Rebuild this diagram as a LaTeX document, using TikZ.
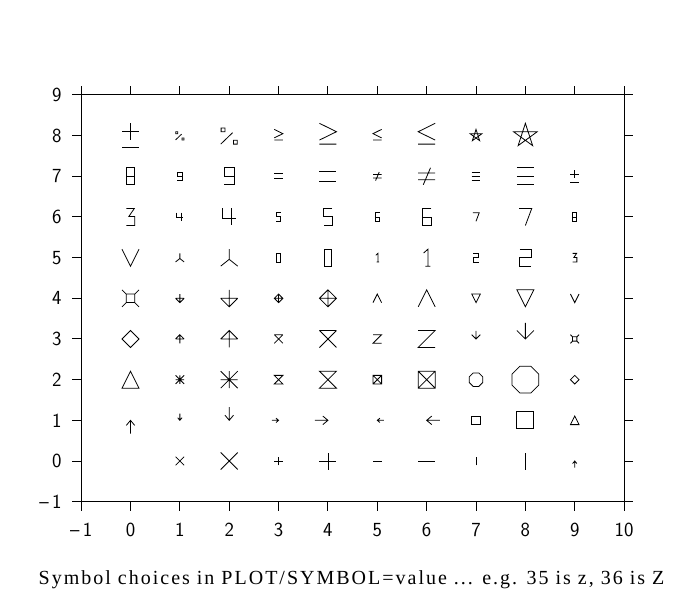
\documentclass[tikz,border=0pt]{standalone}
\usepackage{fontspec}
\newfontfamily\titlefont[LetterSpace=10]{Liberation Serif}
\newcommand\ssz{4.3pt}
\newcommand\bsz{8.5pt}
\tikzset{
	frame/.style={line width=1pt},
	tlab/.style={inner sep=0pt,font=\sffamily\fontsize{20}{23}\selectfont},
	pics/xmark/.style={code={\draw[x=#1,y=#1] (-1,-1)--(1,1) (-1,1)--(1,-1);}},
	pics/pmark/.style={code={\draw[x=#1,y=#1] (-1,0)--(1,0) (0,-1)--(0,1);}},
	pics/hbar/.style={code={\draw[x=#1,y=#1] (-1,0)--(1,0);}},
	pics/vbar/.style={code={\draw[x=#1,y=#1] (0,-1)--(0,1);}},
	pics/arr/.style={code={\draw[x=#1,y=#1] (0,0)--(-1.55,0) (-0.6,0.5)--(0,0)--(-0.6,-0.5);}},
	pics/sqr/.style={code={\draw[x=#1,y=#1] (-1,-1) rectangle (1,1);}},
	pics/tri/.style={code={\draw[x=#1,y=#1] (-1,-1)--(1,-1)--(0,1)--cycle;}},
	pics/ast/.style={code={\draw[x=#1,y=#1] (-1,-1)--(1,1) (-1,1)--(1,-1) (-1,0)--(1,0) (0,-1)--(0,1);}},
	pics/hglass/.style={code={\draw[x=#1,y=#1] (-1,1)--(1,1)--(-1,-1)--(1,-1)--cycle;}},
	pics/boxx/.style={code={\draw[x=#1,y=#1] (-1,-1) rectangle (1,1) (-1,-1)--(1,1) (-1,1)--(1,-1);}},
	pics/octa/.style={code={\draw[x=#1,y=#1] (22.5:1.7) \foreach \a in {67.5,112.5,...,337.5} {--(\a:1.7)} --cycle;}},
	pics/dia/.style={code={\draw[x=#1,y=#1] (0,1)--(1,0)--(0,-1)--(-1,0)--cycle;}},
	pics/tarr/.style={code={\draw[x=#1,y=#1] (-1,0)--(1,0) (0,-1)--(0,1) (-1,0)--(0,1)--(1,0);}},
	pics/topx/.style={code={\draw[x=#1,y=#1] (-1,1)--(1,1) (-1,1)--(1,-1) (1,1)--(-1,-1);}},
	pics/zee/.style={code={\draw[x=#1,y=#1] (-1,1)--(1,1)--(-1,-1)--(1,-1);}},
	pics/varr/.style={code={\draw[x=#1,y=#1] (0,0)--(0,1.9) (-1,1)--(0,0)--(1,1);}},
	pics/csq/.style={code={\draw[x=#1,y=#1] (-0.5,-0.5) rectangle (0.5,0.5) (-0.5,-0.5)--(-1,-1) (0.5,-0.5)--(1,-1) (0.5,0.5)--(1,1) (-0.5,0.5)--(-1,1);}},
	pics/barr/.style={code={\draw[x=#1,y=#1] (-1,0)--(1,0) (0,-1)--(0,1) (-1,0)--(0,-1)--(1,0);}},
	pics/diap/.style={code={\draw[x=#1,y=#1] (0,1)--(1,0)--(0,-1)--(-1,0)--cycle (-1,0)--(1,0) (0,-1)--(0,1);}},
	pics/lam/.style={code={\draw[x=#1,y=#1] (-1,-1)--(0,1)--(1,-1);}},
	pics/itri/.style={code={\draw[x=#1,y=#1] (-1,1)--(1,1)--(0,-1)--cycle;}},
	pics/vee/.style={code={\draw[x=#1,y=#1] (-1,1)--(0,-1)--(1,1);}},
	pics/ypsi/.style={code={\draw[x=#1,y=#1] (0,1)--(0,-0.2) (-1,-1)--(0,-0.2)--(1,-1);}},
	pics/dzero/.style={code={\draw[x=#1,y=#1] (-0.45,-1) rectangle (0.45,1);}},
	pics/done/.style={code={\draw[x=#1,y=#1] (-0.35,0.55)--(0.15,1)--(0.15,-1) (-0.15,-1)--(0.45,-1);}},
	pics/dtwo/.style={code={\draw[x=#1,y=#1] (-0.65,1)--(0.65,1)--(0.65,0)--(-0.65,0)--(-0.65,-1)--(0.65,-1);}},
	pics/dthree/.style={code={\draw[x=#1,y=#1] (-0.5,1)--(0.45,1)--(-0.2,0.05)--(0.5,0.05)--(0.5,-1)--(-0.5,-1);}},
	pics/dfour/.style={code={\draw[x=#1,y=#1] (-0.8,1)--(-0.8,-0.15)--(0.8,-0.15) (0.3,1)--(0.3,-1);}},
	pics/dfive/.style={code={\draw[x=#1,y=#1] (0.5,1)--(-0.5,1)--(-0.5,0.05)--(0.5,0.05)--(0.5,-1)--(-0.5,-1);}},
	pics/dsix/.style={code={\draw[x=#1,y=#1] (0.55,1)--(-0.55,1)--(-0.55,-1)--(0.55,-1)--(0.55,0)--(-0.55,0);}},
	pics/dseven/.style={code={\draw[x=#1,y=#1] (-0.75,1)--(0.75,1)--(0,-1);}},
	pics/deight/.style={code={\draw[x=#1,y=#1] (-0.45,-1) rectangle (0.45,1) (-0.45,0)--(0.45,0);}},
	pics/dnine/.style={code={\draw[x=#1,y=#1] (0.6,0)--(-0.6,0)--(-0.6,1)--(0.6,1)--(0.6,-1)--(-0.6,-1);}},
	pics/eqs/.style={code={\draw[x=#1,y=#1] (-1,0.6)--(1,0.6) (-1,-0.6)--(1,-0.6);}},
	pics/neq/.style={code={\draw[x=#1,y=#1] (-1,0.4)--(1,0.4) (-1,-0.4)--(1,-0.4) (-0.4,-1)--(0.45,1);}},
	pics/triq/.style={code={\draw[x=#1,y=#1] (-1,1)--(1,1) (-1,0)--(1,0) (-1,-1)--(1,-1);}},
	pics/pmk/.style={code={\draw[x=#1,y=#1] (-1,0.45)--(1,0.45) (0,1.45)--(0,-0.5) (-1,-1.4)--(1,-1.4);}},
	pics/pct/.style={code={\draw[x=#1,y=#1] (-0.95,0.45) rectangle (-0.5,0.9) (-1,-1)--(0.4,0.35) (0.5,-1) rectangle (0.95,-0.55);}},
	pics/geq/.style={code={\draw[x=#1,y=#1] (-1,1.45)--(1,0.46)--(-1,-0.52) (-1,-1)--(1,-1);}},
	pics/leq/.style={code={\draw[x=#1,y=#1] (1,1.45)--(-1,0.46)--(1,-0.52) (-1,-1)--(1,-1);}},
	pics/star/.style={code={\draw[x=#1,y=#1] (90:1.45)--(234:1.45)--(18:1.45)--(162:1.45)--(306:1.45)--cycle;}},
}

\begin{document}
\begin{tikzpicture}[x=1pt,y=1pt,line width=0.8pt]
	\useasboundingbox (0,0) rectangle (693,598);
	\begin{scope}[shift={(130.5,137)},x=49.36pt,y=40.67pt]
	%frame + ticks
		\draw[frame] (-1,-1) rectangle (10,9);
		\foreach \t in {-1,...,10} \draw[frame] (\t,-1) -- ++(0,-9pt) (\t,9) -- ++(0,9pt);
		\foreach \t in {-1,...,9} \draw[frame] (-1,\t) -- ++(-9pt,0) (10,\t) -- ++(9pt,0);
	%tick labels
		\node[tlab] (xlm) at (-1,-1.7) {--\,1};
		\foreach \t in {0,...,10} \node[tlab] (xl\t) at (\t,-1.7) {\t};
		\node[tlab,anchor=east] (ylm) at (-1.39,-1) {--\,1};
		\foreach \t in {0,...,9} \node[tlab,anchor=east] (yl\t) at (-1.39,\t) {\t};
	%row 0
		\pic at (1,0) {xmark=\ssz}; \pic at (2,0) {xmark=\bsz};
		\pic at (3,0) {pmark=\ssz}; \pic at (4,0) {pmark=\bsz};
		\pic at (5,0) {hbar=\ssz}; \pic at (6,0) {hbar=\bsz};
		\pic at (7,0) {vbar=\ssz}; \pic at (8,0) {vbar=\bsz};
		\pic[rotate=90] at (9,0) {arr=\ssz};
	%row 1
		\pic[rotate=90] at (0,1) {arr=\bsz};
		\pic[rotate=-90] at (1,1) {arr=\ssz}; \pic[rotate=-90] at (2,1) {arr=\bsz};
		\pic at (3,1) {arr=\ssz}; \pic at (4,1) {arr=\bsz};
		\pic[rotate=180] at (5,1) {arr=\ssz}; \pic[rotate=180] at (6,1) {arr=\bsz};
		\pic at (7,1) {sqr=\ssz}; \pic at (8,1) {sqr=\bsz};
		\pic at (9,1) {tri=\ssz};
	%row 2
		\pic at (0,2) {tri=\bsz};
		\pic at (1,2) {ast=\ssz}; \pic at (2,2) {ast=\bsz};
		\pic at (3,2) {hglass=\ssz}; \pic at (4,2) {hglass=\bsz};
		\pic at (5,2) {boxx=\ssz}; \pic at (6,2) {boxx=\bsz};
		\pic at (7,2) {octa=\ssz}; \pic at (8,2) {octa=\bsz};
		\pic at (9,2) {dia=\ssz};
	%row 3
		\pic at (0,3) {dia=\bsz};
		\pic at (1,3) {tarr=\ssz}; \pic at (2,3) {tarr=\bsz};
		\pic at (3,3) {topx=\ssz}; \pic at (4,3) {topx=\bsz};
		\pic at (5,3) {zee=\ssz}; \pic at (6,3) {zee=\bsz};
		\pic at (7,3) {varr=\ssz}; \pic at (8,3) {varr=\bsz};
		\pic at (9,3) {csq=\ssz};
	%row 4
		\pic at (0,4) {csq=\bsz};
		\pic at (1,4) {barr=\ssz}; \pic at (2,4) {barr=\bsz};
		\pic at (3,4) {diap=\ssz}; \pic at (4,4) {diap=\bsz};
		\pic at (5,4) {lam=\ssz}; \pic at (6,4) {lam=\bsz};
		\pic at (7,4) {itri=\ssz}; \pic at (8,4) {itri=\bsz};
		\pic at (9,4) {vee=\ssz};
	%row 5
		\pic at (0,5) {vee=\bsz};
		\pic at (1,5) {ypsi=\ssz}; \pic at (2,5) {ypsi=\bsz};
		\pic at (3,5) {dzero=\ssz}; \pic at (4,5) {dzero=\bsz};
		\pic at (5,5) {done=\ssz}; \pic at (6,5) {done=\bsz};
		\pic at (7,5) {dtwo=\ssz}; \pic at (8,5) {dtwo=\bsz};
		\pic at (9,5) {dthree=\ssz};
	%row 6
		\pic at (0,6) {dthree=\bsz};
		\pic at (1,6) {dfour=\ssz}; \pic at (2,6) {dfour=\bsz};
		\pic at (3,6) {dfive=\ssz}; \pic at (4,6) {dfive=\bsz};
		\pic at (5,6) {dsix=\ssz}; \pic at (6,6) {dsix=\bsz};
		\pic at (7,6) {dseven=\ssz}; \pic at (8,6) {dseven=\bsz};
		\pic at (9,6) {deight=\ssz};
	%row 7
		\pic at (0,7) {deight=\bsz};
		\pic at (1,7) {dnine=\ssz}; \pic at (2,7) {dnine=\bsz};
		\pic at (3,7) {eqs=\ssz}; \pic at (4,7) {eqs=\bsz};
		\pic at (5,7) {neq=\ssz}; \pic at (6,7) {neq=\bsz};
		\pic at (7,7) {triq=\ssz}; \pic at (8,7) {triq=\bsz};
		\pic at (9,7) {pmk=\ssz};
	%row 8
		\pic at (0,8) {pmk=\bsz};
		\pic at (1,8) {pct=\ssz}; \pic at (2,8) {pct=\bsz};
		\pic at (3,8) {geq=\ssz}; \pic at (4,8) {geq=\bsz};
		\pic at (5,8) {leq=\ssz}; \pic at (6,8) {leq=\bsz};
		\pic at (7,8) {star=\ssz}; \pic at (8,8) {star=\bsz};
	\end{scope}
	%caption
		\node[anchor=base,inner sep=0pt] (title) at (351.5,14) {\titlefont\fontsize{20}{23}\selectfont Symbol choices in PLOT/SYMBOL=value ... e.g. 35 is z, 36 is Z};
\end{tikzpicture}
\end{document}
